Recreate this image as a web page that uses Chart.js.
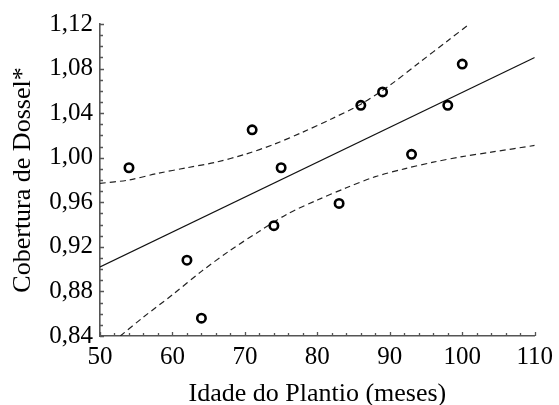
<!DOCTYPE html>
<html>
<head>
<meta charset="utf-8">
<script src="https://cdn.jsdelivr.net/npm/chart.js@4.4.1/dist/chart.umd.min.js"></script>
<style>
  html, body { margin: 0; padding: 0; background: #fff; }
  #wrap { width: 559px; height: 405px; }
</style>
</head>
<body>
<div id="wrap"><canvas id="chart-dossel"></canvas></div>
<script>
// idade do plantio (meses) e cobertura de dossel observada
const idade = [54, 62, 64, 71, 74, 75, 83, 86, 89, 93, 98, 100];
const cobertura = [0.991, 0.908, 0.856, 1.025, 0.939, 0.991, 0.959, 1.047, 1.059, 1.003, 1.047, 1.084];

// reta ajustada
const retaX = [50, 110];
const retaY = [0.902, 1.090];

// limites do intervalo de confiança
const supX = [50, 54, 58, 62, 66, 70, 74, 78, 82, 86, 90, 94, 98, 101];
const supY = [0.977, 0.980, 0.986, 0.991, 0.996, 1.003, 1.012, 1.023, 1.035, 1.048, 1.065, 1.085, 1.105, 1.12];
const infX = [52.8, 56, 60, 64, 68, 72, 76, 80, 84, 88, 92, 96, 100, 104, 110];
const infY = [0.84, 0.857, 0.877, 0.898, 0.917, 0.934, 0.950, 0.962, 0.973, 0.983, 0.990, 0.996, 1.001, 1.005, 1.011];

const ticksX = { min: 50, max: 110, step: 10, minor: 2 };
const ticksY = { min: 0.84, max: 1.12, step: 0.04, minor: 0.01 };

const pares = (xs, ys) => xs.map((x, i) => ({ x: x, y: ys[i] }));
const fonte = 'Liberation Serif, Times New Roman, serif';

// marcas de escala voltadas para dentro do gráfico
const marcasInternas = {
  id: 'marcasInternas',
  afterDraw(chart) {
    const { ctx, scales: { x, y } } = chart;
    ctx.save();
    ctx.strokeStyle = '#555';
    ctx.lineWidth = 1.3;
    ctx.beginPath();
    for (let v = ticksX.min; v <= ticksX.max + 1e-9; v += ticksX.minor) {
      const px = Math.round(x.getPixelForValue(v)) + 0.5;
      const len = Math.abs(v % ticksX.step) < 1e-6 ? 4 : 3;
      ctx.moveTo(px, y.bottom);
      ctx.lineTo(px, y.bottom - len);
    }
    const n = Math.round((ticksY.max - ticksY.min) / ticksY.minor);
    for (let i = 0; i <= n; i++) {
      const py = Math.round(y.getPixelForValue(ticksY.min + i * ticksY.minor)) + 0.5;
      const len = i % 4 === 0 ? 4 : 3;
      ctx.moveTo(x.left, py);
      ctx.lineTo(x.left + len, py);
    }
    ctx.stroke();
    ctx.restore();
  }
};

const ctx = document.getElementById('chart-dossel');
new Chart(ctx, {
  type: 'scatter',
  data: {
    datasets: [
      {
        label: 'Observado',
        data: pares(idade, cobertura),
        pointStyle: 'circle',
        pointRadius: 4.2,
        pointBorderWidth: 2.6,
        pointBorderColor: '#000',
        pointBackgroundColor: 'rgba(255,255,255,0)',
        showLine: false
      },
      {
        label: 'Ajuste',
        data: pares(retaX, retaY),
        showLine: true,
        borderColor: '#111',
        borderWidth: 1.2,
        pointRadius: 0
      },
      {
        label: 'IC superior',
        data: pares(supX, supY),
        showLine: true,
        borderColor: '#222',
        borderWidth: 1.2,
        borderDash: [6, 4],
        pointRadius: 0,
        tension: 0.3
      },
      {
        label: 'IC inferior',
        data: pares(infX, infY),
        showLine: true,
        borderColor: '#222',
        borderWidth: 1.2,
        borderDash: [6, 4],
        pointRadius: 0,
        tension: 0.3
      }
    ]
  },
  options: {
    responsive: true,
    maintainAspectRatio: false,
    animation: false,
    layout: { padding: { top: 24, right: 21, left: 0, bottom: 0 } },
    plugins: { legend: { display: false }, tooltip: { enabled: false } },
    scales: {
      x: {
        type: 'linear',
        min: ticksX.min,
        max: ticksX.max,
        afterFit: (s) => { s.height = 69; },
        grid: { display: false, drawTicks: false },
        border: { display: true, color: '#555', width: 1.6 },
        ticks: {
          stepSize: ticksX.step,
          padding: 6,
          color: '#000',
          font: { family: fonte, size: 25 }
        },
        title: {
          display: true,
          text: 'Idade do Plantio (meses)',
          color: '#000',
          font: { family: fonte, size: 26, lineHeight: 0.85 },
          padding: { top: 0, bottom: 0 }
        }
      },
      y: {
        type: 'linear',
        min: ticksY.min,
        max: ticksY.max,
        afterFit: (s) => { s.width = 100; },
        grid: { display: false, drawTicks: false },
        border: { display: true, color: '#555', width: 1.6 },
        ticks: {
          stepSize: ticksY.step,
          padding: 7,
          color: '#000',
          font: { family: fonte, size: 25 },
          callback: (v) => v.toFixed(2).replace('.', ',')
        },
        title: {
          display: true,
          text: 'Cobertura de Dossel*',
          color: '#000',
          font: { family: fonte, size: 26, lineHeight: 1 },
          padding: { top: 10, bottom: 0 }
        }
      }
    }
  },
  plugins: [marcasInternas]
});
</script>
</body>
</html>
